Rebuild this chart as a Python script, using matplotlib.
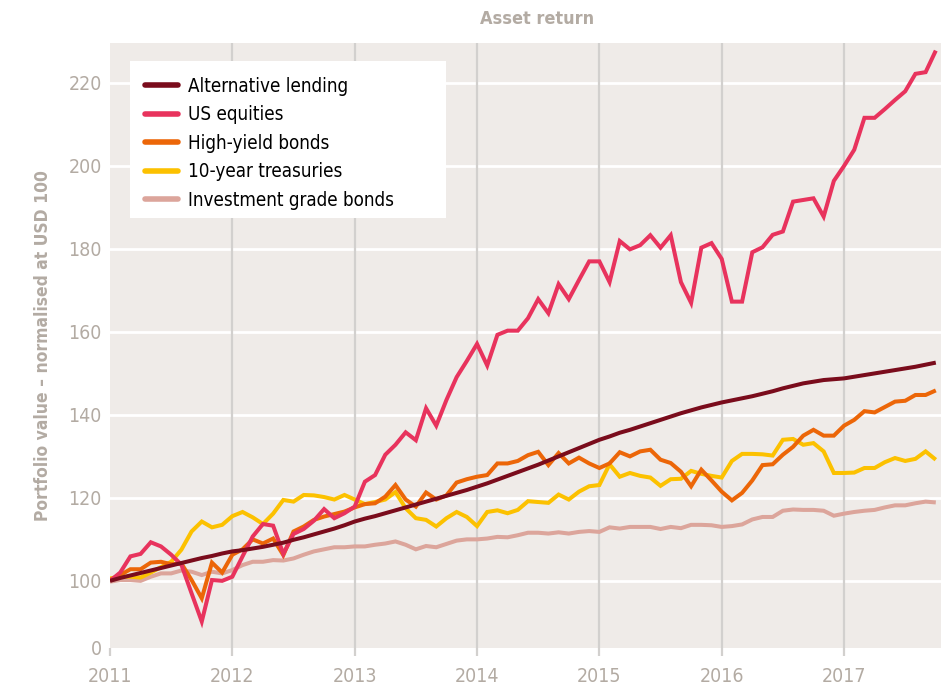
import numpy as np
import matplotlib
matplotlib.use('Agg')
import matplotlib.pyplot as plt
from matplotlib.patches import Rectangle

plt.rcParams['font.family'] = ['Liberation Sans Narrow', 'DejaVu Sans']
plt.rcParams['font.stretch'] = 'condensed'

# monthly values, Jan 2011 .. Oct 2017, normalised at USD 100
alt_lending = [100.0, 100.7, 101.3, 101.9, 102.5, 103.1, 103.7, 104.3, 104.9, 105.5, 106.0, 106.6,
               107.1, 107.4, 107.8, 108.2, 108.7, 109.2, 109.9, 110.5, 111.2, 111.9, 112.6, 113.4,
               114.3, 115.0, 115.6, 116.3, 117.0, 117.7, 118.4, 119.1, 119.8, 120.5, 121.2, 121.9,
               122.7, 123.5, 124.4, 125.3, 126.2, 127.1, 128.0, 129.0, 130.0, 131.0, 132.0, 133.0,
               134.0, 134.8, 135.7, 136.4, 137.2, 138.0, 138.8, 139.6, 140.4, 141.1, 141.8, 142.4,
               143.0, 143.5, 144.0, 144.5, 145.1, 145.7, 146.4, 147.0, 147.6, 148.0, 148.4, 148.6,
               148.8, 149.2, 149.6, 150.0, 150.4, 150.8, 151.2, 151.6, 152.1, 152.6]
us_equities = [100.0, 102.0, 105.9, 106.5, 109.3, 108.3, 106.3, 103.9, 97.0, 90.2, 100.2, 100.0,
               101.0, 105.9, 110.7, 113.7, 113.3, 106.5, 111.3, 112.5, 114.5, 117.3, 115.1, 116.3,
               117.9, 123.9, 125.5, 130.4, 132.8, 135.8, 133.9, 141.6, 137.4, 143.6, 149.1, 153.0,
               157.1, 151.9, 159.3, 160.3, 160.3, 163.3, 167.9, 164.5, 171.5, 167.9, 172.5, 177.0,
               177.0, 172.0, 181.9, 179.9, 180.9, 183.3, 180.3, 183.3, 172.0, 167.0, 180.3, 181.4,
               177.6, 167.3, 167.3, 179.2, 180.4, 183.4, 184.2, 191.4, 191.8, 192.2, 187.8, 196.4,
               200.0, 203.9, 211.6, 211.6, 213.7, 215.9, 218.0, 222.2, 222.6, 227.8]
high_yield = [100.2, 101.4, 102.8, 102.8, 104.4, 104.6, 104.0, 104.2, 100.2, 95.8, 104.4, 102.0,
              106.3, 107.6, 110.0, 109.0, 110.2, 106.2, 111.9, 113.1, 114.7, 115.5, 116.1, 116.7,
              117.7, 118.5, 118.7, 120.3, 123.1, 119.6, 117.9, 121.3, 119.6, 120.6, 123.7, 124.5,
              125.1, 125.5, 128.3, 128.3, 128.9, 130.3, 131.1, 127.9, 130.8, 128.3, 129.7, 128.3,
              127.2, 128.3, 131.0, 130.0, 131.2, 131.6, 129.2, 128.4, 126.3, 122.8, 126.8, 124.2,
              121.5, 119.4, 121.2, 124.2, 127.9, 128.1, 130.4, 132.3, 135.0, 136.4, 135.0, 135.0,
              137.4, 138.8, 140.9, 140.6, 141.9, 143.2, 143.4, 144.8, 144.8, 145.9]
treasuries = [100.6, 101.0, 101.0, 100.8, 102.0, 103.3, 104.6, 107.5, 111.9, 114.3, 112.9, 113.5,
              115.6, 116.6, 115.3, 113.7, 116.2, 119.5, 119.1, 120.7, 120.6, 120.2, 119.6, 120.7,
              119.6, 118.5, 119.0, 119.6, 121.4, 117.5, 115.1, 114.7, 113.1, 115.1, 116.6, 115.4,
              113.2, 116.6, 117.0, 116.3, 117.1, 119.2, 119.0, 118.8, 120.8, 119.6, 121.5, 122.8,
              123.1, 128.1, 125.1, 126.0, 125.3, 124.9, 122.9, 124.5, 124.6, 126.5, 125.8, 125.3,
              124.9, 128.9, 130.6, 130.6, 130.5, 130.2, 134.0, 134.2, 132.8, 133.2, 131.2, 126.0,
              126.0, 126.1, 127.2, 127.2, 128.6, 129.6, 128.9, 129.4, 131.2, 129.2]
inv_grade = [99.8, 100.2, 100.2, 100.0, 101.0, 101.8, 101.8, 102.5, 102.2, 101.4, 102.2, 101.8,
             102.6, 103.8, 104.6, 104.6, 105.0, 104.9, 105.4, 106.3, 107.1, 107.6, 108.1, 108.1,
             108.3, 108.3, 108.7, 109.0, 109.5, 108.7, 107.6, 108.4, 108.1, 108.9, 109.7, 110.0,
             110.0, 110.2, 110.6, 110.5, 111.0, 111.6, 111.6, 111.4, 111.7, 111.4, 111.8, 112.0,
             111.8, 112.9, 112.6, 113.0, 113.0, 113.0, 112.5, 113.0, 112.7, 113.5, 113.5, 113.4,
             113.0, 113.2, 113.6, 114.8, 115.4, 115.4, 116.9, 117.2, 117.1, 117.1, 116.9, 115.7,
             116.2, 116.6, 116.9, 117.1, 117.7, 118.2, 118.2, 118.7, 119.1, 118.9]

labels = ['Alternative lending', 'US equities', 'High-yield bonds',
          '10-year treasuries', 'Investment grade bonds']
colors = ['#7a0c1c', '#e8335d', '#ec6608', '#fcc100', '#dca59b']
years = [2011, 2012, 2013, 2014, 2015, 2016, 2017]
ytick_vals = [84, 100, 120, 140, 160, 180, 200, 220]
ytick_labels = ['0', '100', '120', '140', '160', '180', '200', '220']

x = 2011 + np.arange(len(us_equities)) / 12.0
series = [alt_lending, us_equities, high_yield, treasuries, inv_grade]

grey = '#b3aba3'
fig = plt.figure(figsize=(9.5, 6.89), dpi=100)
ax = fig.add_axes([0.1158, 0.060, 0.8744, 0.878])
ax.set_facecolor('#efebe8')

handles = []
for k in range(len(series) - 1, -1, -1):
    h, = ax.plot(x, series[k], color=colors[k], lw=2.9, solid_joinstyle='miter',
                 solid_capstyle='butt', zorder=3 + (len(series) - k))
    handles.insert(0, h)

ax.set_xlim(2011, 2017.79)
ax.set_ylim(83.9, 229.7)

for v in ytick_vals[1:]:
    ax.axhline(v, color='white', lw=2, zorder=1)
ax.set_xticks(years)
ax.set_xticklabels([str(y) for y in years])
for yr in years[1:]:
    ax.axvline(yr, color='#d2d0ce', lw=1.6, zorder=1)
ax.set_yticks(ytick_vals)
ax.set_yticklabels(ytick_labels)

for s in ax.spines.values():
    s.set_visible(False)
ax.tick_params(axis='x', length=6, width=1.6, color='#d2d0ce', labelcolor=grey,
               labelsize=14, pad=8)
ax.tick_params(axis='y', length=0, labelcolor=grey, labelsize=14, pad=6)

ax.set_ylabel('Portfolio value \u2013 normalised at USD 100', color=grey,
              fontsize=12.5, fontweight='bold', labelpad=12)
fig.text(0.565, 0.973, 'Asset return', color=grey, fontsize=13,
         fontweight='bold', ha='center', va='center')

# white box behind the legend
ax.add_patch(Rectangle((0.024, 0.71), 0.38, 0.26, transform=ax.transAxes,
                       facecolor='white', edgecolor='none', zorder=9))
leg = ax.legend(handles, labels, loc='upper left', bbox_to_anchor=(0.026, 0.965),
                borderaxespad=0, frameon=False, fontsize=13.5,
                handlelength=1.75, handletextpad=0.55, labelspacing=0.5,
                borderpad=0.7)
for line in leg.get_lines():
    line.set_linewidth(4)
    line.set_solid_capstyle('round')
leg.set_zorder(10)

fig.savefig('out.png', dpi=100, facecolor='white')
